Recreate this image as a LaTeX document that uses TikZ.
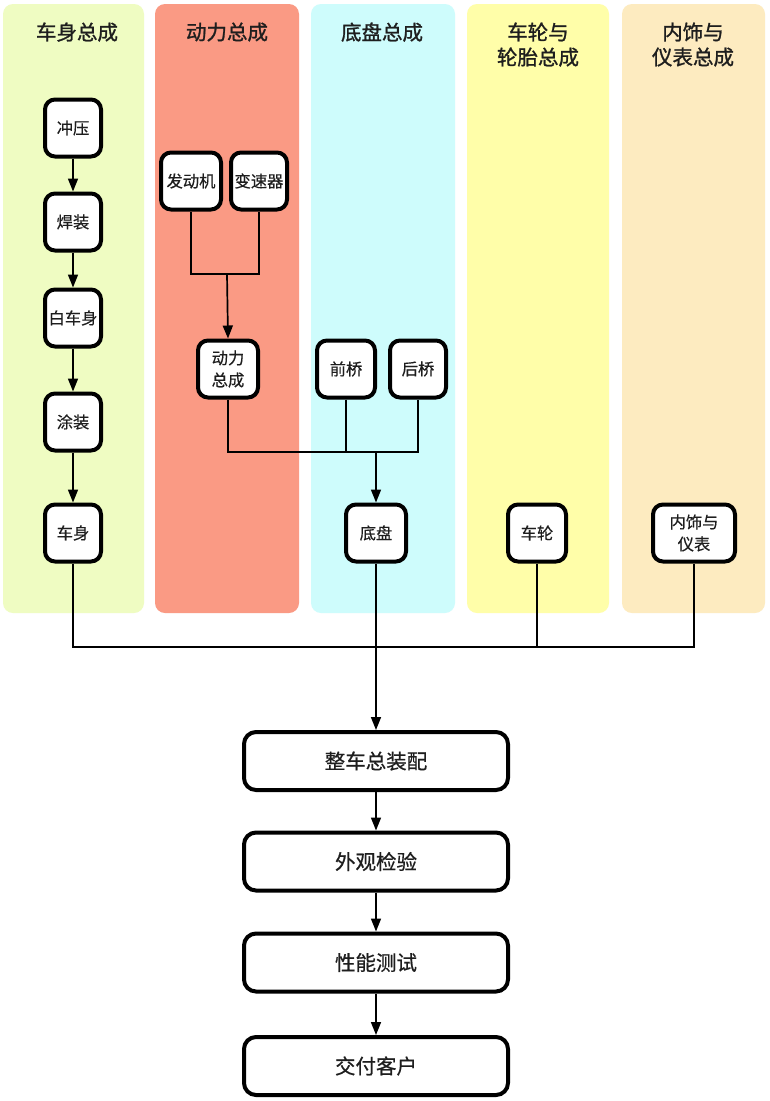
\documentclass[tikz,border=0pt]{standalone}
\usepackage{fontspec}
\setmainfont{Noto Sans CJK SC}
\newfontfamily\titlefont[FakeBold=1.2]{Noto Sans CJK SC}
\newfontfamily\mainfont[FakeBold=0.6]{Noto Sans CJK SC}
\newfontfamily\smallfont[FakeBold=0.4]{Noto Sans CJK SC}
\usetikzlibrary{arrows.meta}
\definecolor{laneA}{HTML}{EFFCC2}
\definecolor{laneB}{HTML}{FA9A84}
\definecolor{laneC}{HTML}{CEFCFC}
\definecolor{laneD}{HTML}{FFFEA9}
\definecolor{laneE}{HTML}{FDEBC0}
\definecolor{ink}{HTML}{1E1E1E}
\tikzset{
  lane/.style={rounded corners=10pt, draw=none},
  lanetitle/.style={font=\titlefont\fontsize{20.5}{25}\selectfont, text=ink, align=center, anchor=north},
  box/.style={draw=black, line width=4pt, fill=white, rounded corners=10pt,
    minimum width=56pt, minimum height=57pt, inner sep=1pt, align=center,
    font=\smallfont\fontsize{16.3}{22}\selectfont, text=ink},
  mainbox/.style={draw=black, line width=4pt, fill=white, rounded corners=12pt,
    minimum width=264pt, minimum height=58pt, inner sep=1pt,
    font=\mainfont\fontsize{20.5}{24}\selectfont, text=ink},
  conn/.style={draw=black, line width=1.1pt},
  arr/.style={draw=black, line width=1.7pt, -{Triangle[length=13pt,width=10pt]}}
}
\begin{document}
\begin{tikzpicture}[x=1pt,y=-1pt]
\useasboundingbox (0,0) rectangle (769,1101);
\fill[white] (0,0) rectangle (769,1101);
% lanes
\fill[lane, laneA] (3,4) rectangle (144,613);
\fill[lane, laneB] (155,4) rectangle (299,613);
\fill[lane, laneC] (311,4) rectangle (455,613);
\fill[lane, laneD] (467,4) rectangle (609,613);
\fill[lane, laneE] (622,4) rectangle (765,613);
\node[lanetitle] (tA) at (77,19) {车身总成};
\node[lanetitle] (tB) at (227,19) {动力总成};
\node[lanetitle] (tC) at (382,19) {底盘总成};
\node[lanetitle] (tD) at (538,19) {车轮与\\轮胎总成};
\node[lanetitle] (tE) at (693,19) {内饰与\\仪表总成};
% body column
\node[box] (stamp) at (73,128) {冲压};
\node[box] (weld) at (73,222) {焊装};
\node[box] (biw) at (73,318) {白车身};
\node[box] (paint) at (73,422) {涂装};
\node[box] (body) at (73,533) {车身};
% power column
\node[box, minimum width=60pt] (engine) at (191,181) {发动机};
\node[box] (gear) at (259,181) {变速器};
\node[box, minimum width=60pt] (power) at (228,369) {动力\\总成};
% chassis column
\node[box, minimum width=58pt] (front) at (346,369) {前桥};
\node[box] (rear) at (418,369) {后桥};
\node[box, minimum width=60pt] (chassis) at (376,533) {底盘};
% wheel / interior
\node[box, minimum width=58pt] (wheel) at (537,533) {车轮};
\node[box, minimum width=82pt] (interior) at (694,533) {内饰与\\仪表};
% main flow
\node[mainbox] (assembly) at (376,761) {整车总装配};
\node[mainbox] (inspect) at (376,861.5) {外观检验};
\node[mainbox] (test) at (376,962.5) {性能测试};
\node[mainbox] (deliver) at (376,1066) {交付客户};
% junction points
\coordinate (pj) at (227,274);
\coordinate (cj) at (376,452);
\coordinate (bj) at (376,647);
% body chain
\draw[arr] (stamp) -- (weld);
\draw[arr] (weld) -- (biw);
\draw[arr] (biw) -- (paint);
\draw[arr] (paint) -- (body);
% power
\draw[conn] (engine.south) |- (pj) -| (gear.south);
\draw[arr] (pj) -- (power.north);
% chassis
\draw[conn] (power.south) |- (cj) -| (rear.south);
\draw[conn] (front.south) -- (front.south |- cj);
\draw[arr] (cj) -- (chassis.north);
% to assembly
\draw[conn] (body.south) |- (bj) -| (interior.south);
\draw[conn] (wheel.south) -- (wheel.south |- bj);
\draw[conn] (chassis.south) -- (bj);
\draw[arr] (bj) -- (assembly.north);
% main chain
\draw[arr] (assembly) -- (inspect);
\draw[arr] (inspect) -- (test);
\draw[arr] (test) -- (deliver);
\end{tikzpicture}
\end{document}
